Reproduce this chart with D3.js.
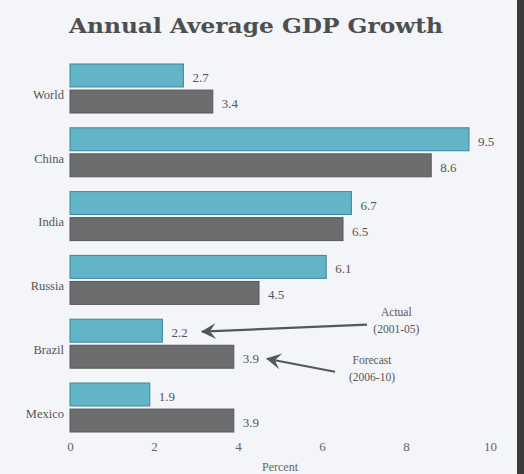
<!DOCTYPE html>
<html>
<head>
<meta charset="utf-8">
<script src="https://cdn.jsdelivr.net/npm/d3@7"></script>
<style>
  html, body { margin: 0; padding: 0; background: #f3f5f8; }
  svg { display: block; }
</style>
</head>
<body>
<div id="chart"></div>
<script>
// data
const countries = ['World', 'China', 'India', 'Russia', 'Brazil', 'Mexico'];
const actual   = [2.7, 9.5, 6.7, 6.1, 2.2, 1.9];   // 2001-05
const forecast = [3.4, 8.6, 6.5, 4.5, 3.9, 3.9];   // 2006-10
const xTicks = [0, 2, 4, 6, 8, 10];
const seriesNames = ['actual', 'forecast'];

const W = 524, H = 474;
const serif = "'Liberation Serif', 'DejaVu Serif', serif";

const svg = d3.select('#chart').append('svg')
  .attr('width', W)
  .attr('height', H);

svg.append('rect').attr('width', W).attr('height', H).attr('fill', '#f3f5f8');

// scales
const x = d3.scaleLinear().domain([0, 10]).range([70, 490]);
const y = d3.scaleBand().domain(countries).range([64, 432]).paddingInner(0.232).paddingOuter(0);
const ySub = d3.scaleBand().domain(seriesNames).range([0, y.bandwidth()]).paddingInner(0.12);
const colors = { actual: '#62b4c9', forecast: '#6b6d6e' };
const strokes = { actual: '#3f8596', forecast: '#555758' };

// title
svg.append('text')
  .attr('x', 256)
  .attr('y', 33)
  .attr('text-anchor', 'middle')
  .attr('textLength', 374)
  .attr('lengthAdjust', 'spacingAndGlyphs')
  .style('font-family', "'DejaVu Serif', serif")
  .style('font-weight', 'bold')
  .style('font-size', '21px')
  .style('fill', '#4d4f50')
  .text('Annual Average GDP Growth');

const rows = countries.map((c, i) => ({ country: c, actual: actual[i], forecast: forecast[i] }));

const groups = svg.selectAll('.group')
  .data(rows)
  .enter().append('g')
  .attr('class', 'group')
  .attr('transform', d => `translate(0, ${y(d.country)})`);

seriesNames.forEach(s => {
  groups.append('rect')
    .attr('x', x(0))
    .attr('y', ySub(s))
    .attr('width', d => x(d[s]) - x(0))
    .attr('height', ySub.bandwidth())
    .attr('fill', colors[s])
    .attr('stroke', strokes[s])
    .attr('stroke-width', 1);

  // value labels
  groups.append('text')
    .attr('x', d => x(d[s]) + 9)
    .attr('y', ySub(s) + ySub.bandwidth() / 2 + 2)
    .attr('dy', '0.35em')
    .style('font-family', serif)
    .style('font-size', '13px')
    .style('fill', '#555')
    .text(d => d[s].toFixed(1));
});

// country labels
groups.append('text')
  .attr('x', 64)
  .attr('y', y.bandwidth() / 2 + 6)
  .attr('dy', '0.35em')
  .attr('text-anchor', 'end')
  .style('font-family', serif)
  .style('font-size', '12.5px')
  .style('fill', '#555')
  .text(d => d.country);

// x axis, tick labels only
const xAxis = svg.append('g')
  .attr('transform', 'translate(0, 442)')
  .call(d3.axisBottom(x).tickValues(xTicks).tickSize(0).tickPadding(0));
xAxis.select('.domain').remove();
xAxis.selectAll('text')
  .attr('dy', '0.71em')
  .style('font-family', serif)
  .style('font-size', '13px')
  .style('fill', '#666');

svg.append('text')
  .attr('x', x(5))
  .attr('y', 471)
  .attr('text-anchor', 'middle')
  .style('font-family', serif)
  .style('font-size', '12px')
  .style('fill', '#666')
  .text('Percent');

// arrowhead, placed at the start of each line (the tip)
svg.append('defs').append('marker')
  .attr('id', 'arrowTip')
  .attr('markerUnits', 'userSpaceOnUse')
  .attr('viewBox', '0 0 16 16')
  .attr('refX', 15).attr('refY', 8)
  .attr('markerWidth', 16).attr('markerHeight', 16)
  .attr('orient', 'auto-start-reverse')
  .append('path')
  .attr('d', 'M16,8 L1,0 L7,8 L1,16 Z')
  .attr('fill', '#55585a');

const bY = y('Brazil');
const aMid = bY + ySub('actual') + ySub.bandwidth() / 2;
const fMid = bY + ySub('forecast') + ySub.bandwidth() / 2;

svg.append('line')
  .attr('x1', x(3.14)).attr('y1', aMid + 1)
  .attr('x2', x(7.07)).attr('y2', aMid - 6)
  .attr('stroke', '#55585a').attr('stroke-width', 2.2)
  .attr('marker-start', 'url(#arrowTip)');

svg.append('line')
  .attr('x1', x(4.69)).attr('y1', fMid + 2)
  .attr('x2', x(6.31)).attr('y2', fMid + 15)
  .attr('stroke', '#55585a').attr('stroke-width', 2.2)
  .attr('marker-start', 'url(#arrowTip)');

const notes = [
  { lines: ['Actual', '(2001-05)'], xv: 7.77, yy: aMid - 15 },
  { lines: ['Forecast', '(2006-10)'], xv: 7.19, yy: fMid + 7 }
];
notes.forEach(n => {
  n.lines.forEach((t, i) => {
    svg.append('text')
      .attr('x', x(n.xv))
      .attr('y', n.yy + i * 17)
      .attr('text-anchor', 'middle')
      .style('font-family', serif)
      .style('font-size', '11.5px')
      .style('fill', '#555')
      .text(t);
  });
});

// dark scan edge on the right
svg.append('rect')
  .attr('x', 517).attr('y', 0)
  .attr('width', 7).attr('height', H)
  .attr('fill', '#3b3b3c');
</script>
</body>
</html>
